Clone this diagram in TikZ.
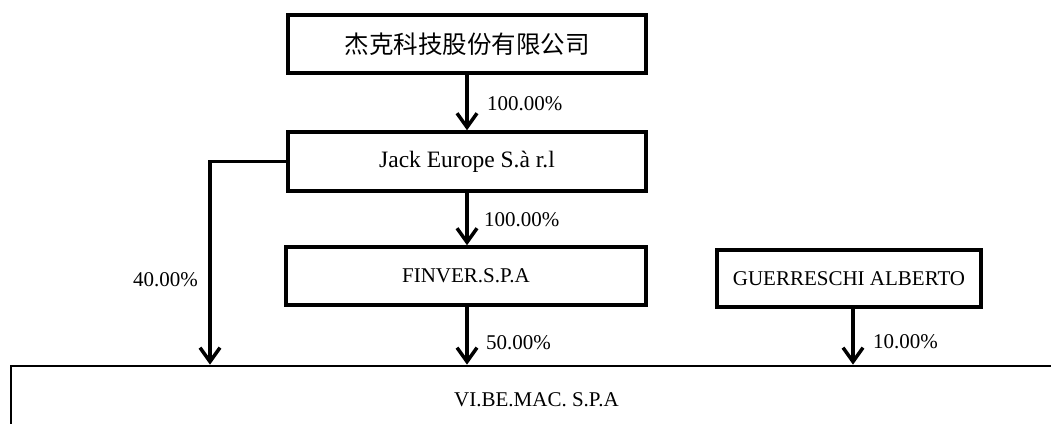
\documentclass[tikz,border=0pt]{standalone}
\usepackage{fontspec}
\setmainfont{Liberation Serif}
\newfontfamily\cjk{Noto Sans CJK SC}
\usetikzlibrary{arrows.meta}
\begin{document}
\begin{tikzpicture}[x=1pt,y=-1pt,
  box/.style={draw,line width=3.5pt,inner sep=0pt,minimum width=358pt,minimum height=58pt,font=\fontsize{21}{25}\selectfont},
  arr/.style={line width=3.5pt,-{Straight Barb[length=14pt,width=20pt,line width=3.5pt]}},
  pct/.style={anchor=west,inner sep=0pt,font=\fontsize{21}{25}\selectfont}]
\useasboundingbox (0,0) rectangle (1051,423);
\node[box,font=\cjk\fontsize{24.5}{28}\selectfont] (top) at (467,44) {杰克科技股份有限公司};
\node[box,minimum height=59pt,font=\fontsize{23.5}{27}\selectfont] (jack) at (467,161.5) {Jack Europe S.à r.l};
\node[box,minimum width=360pt] (fin) at (466,276) {FINVER.S.P.A};
\node[box,minimum width=264pt,minimum height=57pt] (gue) at (849,278.5) {GUERRESCHI ALBERTO};
\node[draw,line width=2.7pt,inner sep=0pt,minimum width=1051pt,minimum height=68pt,font=\fontsize{21}{25}\selectfont] (vib) at (536.5,400) {VI.BE.MAC. S.P.A};
\coordinate (lx) at (210,0);
\coordinate (gx) at (853,0);
\draw[arr] (top.south) -- (jack.north);
\draw[arr] (jack.south) -- (jack.south |- fin.north);
\draw[arr] (jack.south |- fin.south) -- (jack.south |- vib.north);
\draw[arr] (gx |- gue.south) -- (gx |- vib.north);
\draw[arr] (jack.west) -| (lx |- vib.north);
\node[pct] (p1) at (487,104) {100.00\%};
\node[pct] (p2) at (484,220) {100.00\%};
\node[pct] (p3) at (486,343) {50.00\%};
\node[pct] (p4) at (873,342) {10.00\%};
\node[pct,anchor=east] (p5) at (198,280) {40.00\%};
\end{tikzpicture}
\end{document}
